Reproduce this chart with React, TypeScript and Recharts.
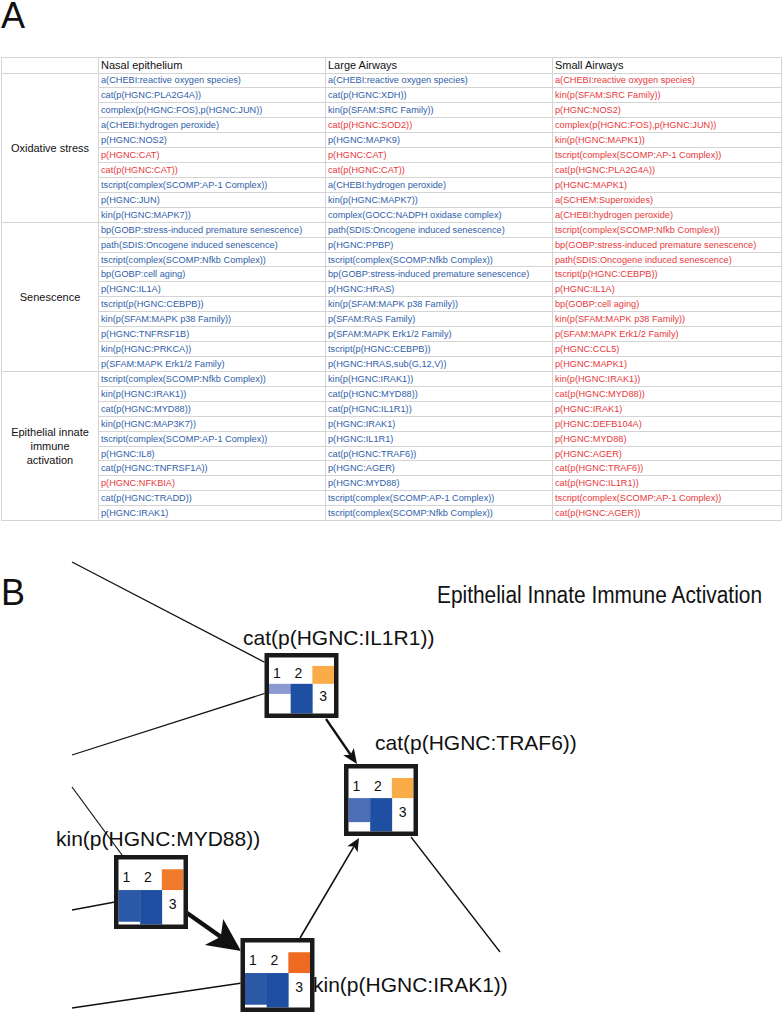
import React from "react";
import {
  ScatterChart,
  Scatter,
  XAxis,
  YAxis,
  ReferenceLine,
  Customized,
} from "recharts";

const FONT = "'Liberation Sans', Arial, Helvetica, sans-serif";

// ---------- panel A : table ----------
const regions = ["Nasal epithelium", "Large Airways", "Small Airways"];
const processes = ["Oxidative stress", "Senescence", "Epithelial innate\nimmune\nactivation"];

const nasalEpithelium = [
  "a(CHEBI:reactive oxygen species)",
  "cat(p(HGNC:PLA2G4A))",
  "complex(p(HGNC:FOS),p(HGNC:JUN))",
  "a(CHEBI:hydrogen peroxide)",
  "p(HGNC:NOS2)",
  "p(HGNC:CAT)",
  "cat(p(HGNC:CAT))",
  "tscript(complex(SCOMP:AP-1 Complex))",
  "p(HGNC:JUN)",
  "kin(p(HGNC:MAPK7))",
  "bp(GOBP:stress-induced premature senescence)",
  "path(SDIS:Oncogene induced senescence)",
  "tscript(complex(SCOMP:Nfkb Complex))",
  "bp(GOBP:cell aging)",
  "p(HGNC:IL1A)",
  "tscript(p(HGNC:CEBPB))",
  "kin(p(SFAM:MAPK p38 Family))",
  "p(HGNC:TNFRSF1B)",
  "kin(p(HGNC:PRKCA))",
  "p(SFAM:MAPK Erk1/2 Family)",
  "tscript(complex(SCOMP:Nfkb Complex))",
  "kin(p(HGNC:IRAK1))",
  "cat(p(HGNC:MYD88))",
  "kin(p(HGNC:MAP3K7))",
  "tscript(complex(SCOMP:AP-1 Complex))",
  "p(HGNC:IL8)",
  "cat(p(HGNC:TNFRSF1A))",
  "p(HGNC:NFKBIA)",
  "cat(p(HGNC:TRADD))",
  "p(HGNC:IRAK1)",
];

const largeAirways = [
  "a(CHEBI:reactive oxygen species)",
  "cat(p(HGNC:XDH))",
  "kin(p(SFAM:SRC Family))",
  "cat(p(HGNC:SOD2))",
  "p(HGNC:MAPK9)",
  "p(HGNC:CAT)",
  "cat(p(HGNC:CAT))",
  "a(CHEBI:hydrogen peroxide)",
  "kin(p(HGNC:MAPK7))",
  "complex(GOCC:NADPH oxidase complex)",
  "path(SDIS:Oncogene induced senescence)",
  "p(HGNC:PPBP)",
  "tscript(complex(SCOMP:Nfkb Complex))",
  "bp(GOBP:stress-induced premature senescence)",
  "p(HGNC:HRAS)",
  "kin(p(SFAM:MAPK p38 Family))",
  "p(SFAM:RAS Family)",
  "p(SFAM:MAPK Erk1/2 Family)",
  "tscript(p(HGNC:CEBPB))",
  "p(HGNC:HRAS,sub(G,12,V))",
  "kin(p(HGNC:IRAK1))",
  "cat(p(HGNC:MYD88))",
  "cat(p(HGNC:IL1R1))",
  "p(HGNC:IRAK1)",
  "p(HGNC:IL1R1)",
  "cat(p(HGNC:TRAF6))",
  "p(HGNC:AGER)",
  "p(HGNC:MYD88)",
  "tscript(complex(SCOMP:AP-1 Complex))",
  "tscript(complex(SCOMP:Nfkb Complex))",
];

const smallAirways = [
  "a(CHEBI:reactive oxygen species)",
  "kin(p(SFAM:SRC Family))",
  "p(HGNC:NOS2)",
  "complex(p(HGNC:FOS),p(HGNC:JUN))",
  "kin(p(HGNC:MAPK1))",
  "tscript(complex(SCOMP:AP-1 Complex))",
  "cat(p(HGNC:PLA2G4A))",
  "p(HGNC:MAPK1)",
  "a(SCHEM:Superoxides)",
  "a(CHEBI:hydrogen peroxide)",
  "tscript(complex(SCOMP:Nfkb Complex))",
  "bp(GOBP:stress-induced premature senescence)",
  "path(SDIS:Oncogene induced senescence)",
  "tscript(p(HGNC:CEBPB))",
  "p(HGNC:IL1A)",
  "bp(GOBP:cell aging)",
  "kin(p(SFAM:MAPK p38 Family))",
  "p(SFAM:MAPK Erk1/2 Family)",
  "p(HGNC:CCL5)",
  "p(HGNC:MAPK1)",
  "kin(p(HGNC:IRAK1))",
  "cat(p(HGNC:MYD88))",
  "p(HGNC:IRAK1)",
  "p(HGNC:DEFB104A)",
  "p(HGNC:MYD88)",
  "p(HGNC:AGER)",
  "cat(p(HGNC:TRAF6))",
  "cat(p(HGNC:IL1R1))",
  "tscript(complex(SCOMP:AP-1 Complex))",
  "cat(p(HGNC:AGER))",
];

// entries printed in red; everything else in the first two columns is blue
const nasalRed = ["p(HGNC:CAT)", "cat(p(HGNC:CAT))", "p(HGNC:NFKBIA)"];
const largeRed = ["cat(p(HGNC:SOD2))", "p(HGNC:CAT)", "cat(p(HGNC:CAT))"];
const smallRed = smallAirways;

const BLUE_TEXT = "#2f5ea9";
const RED_TEXT = "#e8383b";
const GRID = "#d4d4d4";
const ROW_H = 14.93;

const columnsData = [nasalEpithelium, largeAirways, smallAirways];
const columnsRed = [nasalRed, largeRed, smallRed];

const cellBase: React.CSSProperties = {
  border: `1px solid ${GRID}`,
  padding: "0 0 0 2px",
  whiteSpace: "nowrap",
  overflow: "hidden",
  verticalAlign: "middle",
  lineHeight: "12px",
};

function TableA() {
  const rowsPerGroup = nasalEpithelium.length / processes.length;
  return (
    <table
      style={{
        position: "absolute",
        left: 1,
        top: 57,
        width: 780,
        borderCollapse: "collapse",
        tableLayout: "fixed",
        fontFamily: FONT,
      }}
    >
      <colgroup>
        <col style={{ width: 97 }} />
        <col style={{ width: 227 }} />
        <col style={{ width: 227 }} />
        <col style={{ width: 229 }} />
      </colgroup>
      <tbody>
        <tr style={{ height: 15.5 }}>
          <td style={cellBase} />
          {regions.map((r) => (
            <td key={r} style={{ ...cellBase, fontSize: 11, color: "#111" }}>
              {r}
            </td>
          ))}
        </tr>
        {nasalEpithelium.map((_, i) => {
          const g = Math.floor(i / rowsPerGroup);
          const first = i % rowsPerGroup === 0;
          return (
            <tr key={i} style={{ height: ROW_H }}>
              {first && (
                <td
                  rowSpan={rowsPerGroup}
                  style={{
                    ...cellBase,
                    padding: 0,
                    textAlign: "center",
                    fontSize: 11,
                    lineHeight: "14px",
                    color: "#111",
                    whiteSpace: "normal",
                  }}
                >
                  {processes[g].split("\n").map((line, k) => (
                    <div key={k}>{line}</div>
                  ))}
                </td>
              )}
              {columnsData.map((col, c) => (
                <td
                  key={c}
                  style={{
                    ...cellBase,
                    fontSize: 9.2,
                    color: columnsRed[c].includes(col[i]) ? RED_TEXT : BLUE_TEXT,
                  }}
                >
                  {col[i]}
                </td>
              ))}
            </tr>
          );
        })}
      </tbody>
    </table>
  );
}

// ---------- panel B : network ----------
const nodeLabels = [
  "cat(p(HGNC:IL1R1))",
  "cat(p(HGNC:TRAF6))",
  "kin(p(HGNC:MYD88))",
  "kin(p(HGNC:IRAK1))",
];
const nodeX = [301.5, 381, 151, 277.5];
const nodeY = [685.5, 800, 892, 975];
// perturbation per region: negative = decreased (blue), positive = increased (orange)
const nasalScore = [-0.34, -0.72, -0.92, -0.92];
const largeScore = [-1, -1, -1, -1];
const smallScore = [0.3, 0.3, 0.75, 0.9];

// network edges (dangling ones come from neighbours outside the crop)
const edgeFrom = [
  [72, 562],
  [72, 755],
  [72, 787],
  [72, 910],
  [72, 1008],
  [326, 719],
  [187, 913],
  [300, 938],
  [411, 837],
];
const edgeTo = [
  [266, 663],
  [266, 693],
  [122, 855],
  [115, 902],
  [242, 983],
  [357, 764],
  [241, 951],
  [359, 838],
  [500, 952],
];

// drawing layout
const CHART_TOP = 540;
const edgeWidth = [1.3, 1.3, 1.2, 1.3, 1.3, 2.3, 4.5, 1.6, 1.3];
const edgeHead: (number[] | null)[] = [null, null, null, null, null, [15, 6.5], [33, 16], [13, 6], null];
const tileH = [65, 72, 74, 74];
const TILE_W = 74;
const labelDx = [-58.5, -6, -95, 35.5];
const labelDy = [-40.5, -50, -46, 17];

const mix = (a: number[], b: number[], t: number) =>
  `rgb(${a.map((v, k) => Math.round(v + (b[k] - v) * t)).join(",")})`;
const blueColor = (t: number) => mix([196, 190, 232], [31, 79, 162], t);
const orangeColor = (t: number) => mix([254, 205, 90], [236, 95, 28], t);

const nodes = nodeLabels.map((label, i) => ({
  i,
  label,
  x: nodeX[i],
  y: nodeY[i],
  scores: [nasalScore[i], largeScore[i], smallScore[i]],
}));

function NodeTile(props: any) {
  const { cx, cy, payload } = props;
  const i = payload.i;
  const w = TILE_W;
  const h = tileH[i];
  const bw = 4.5;
  const left = cx - w / 2;
  const top = cy - h / 2;
  const il = left + bw;
  const it = top + bw;
  const iw = w - 2 * bw;
  const ih = h - 2 * bw;
  const colW = iw / 3;
  const mid = it + ih * 0.47;
  const low = it + ih - mid;
  return (
    <g>
      <rect x={left} y={top} width={w} height={h} fill="#fff" />
      {payload.scores.map((s: number, k: number) => {
        const x = il + k * colW;
        const cxCol = x + colW / 2;
        if (s < 0) {
          return (
            <g key={k}>
              <rect x={x} y={mid} width={colW + 0.3} height={low * Math.abs(s)} fill={blueColor(Math.abs(s))} />
              <text
                x={cxCol - 3}
                y={it + ih * 0.27 + 5}
                textAnchor="middle"
                fontSize={14}
                fontFamily={FONT}
                fill="#111"
              >
                {k + 1}
              </text>
            </g>
          );
        }
        return (
          <g key={k}>
            <rect x={x} y={it + ih * 0.15} width={colW} height={ih * 0.32} fill={orangeColor(s)} />
            <text
              x={cxCol}
              y={it + ih * 0.69 + 5}
              textAnchor="middle"
              fontSize={14}
              fontFamily={FONT}
              fill="#111"
            >
              {k + 1}
            </text>
          </g>
        );
      })}
      <rect
        x={left + bw / 2}
        y={top + bw / 2}
        width={w - bw}
        height={h - bw}
        fill="none"
        stroke="#1a1a1a"
        strokeWidth={bw}
      />
      <text
        x={cx + labelDx[i]}
        y={cy + labelDy[i]}
        fontSize={21}
        fontFamily={FONT}
        fill="#111"
      >
        {payload.label}
      </text>
    </g>
  );
}

function Edge(props: any) {
  const { x1, y1, x2, y2, width, head } = props;
  const dx = x2 - x1;
  const dy = y2 - y1;
  const len = Math.hypot(dx, dy);
  const ux = dx / len;
  const uy = dy / len;
  if (!head) {
    return <line x1={x1} y1={y1} x2={x2} y2={y2} stroke="#111" strokeWidth={width} />;
  }
  const [hl, hw] = head;
  const bx = x2 - ux * hl;
  const by = y2 - uy * hl;
  const nx = -uy;
  const ny = ux;
  const notchX = x2 - ux * hl * 0.75;
  const notchY = y2 - uy * hl * 0.75;
  const pts = [
    [x2, y2],
    [bx + nx * hw, by + ny * hw],
    [notchX, notchY],
    [bx - nx * hw, by - ny * hw],
  ]
    .map((p) => p.join(","))
    .join(" ");
  return (
    <g>
      <line x1={x1} y1={y1} x2={notchX} y2={notchY} stroke="#111" strokeWidth={width} />
      <polygon points={pts} fill="#111" />
    </g>
  );
}

// svg coordinates here are relative to the chart's own top edge
function PanelBTitles() {
  return (
    <g>
      <text x={1} y={605 - CHART_TOP} fontSize={36} fontFamily={FONT} fill="#111">
        B
      </text>
      <text
        x={437}
        y={603 - CHART_TOP}
        fontSize={23}
        fontFamily={"'Liberation Sans Narrow', " + FONT}
        fill="#111"
        textLength={325}
        lengthAdjust="spacingAndGlyphs"
      >
        Epithelial Innate Immune Activation
      </text>
    </g>
  );
}

function NetworkB() {
  return (
    <div style={{ position: "absolute", left: 0, top: CHART_TOP }}>
      <ScatterChart width={783} height={474} margin={{ top: 0, right: 0, bottom: 0, left: 0 }}>
        <XAxis type="number" dataKey="x" domain={[0, 783]} hide />
        <YAxis type="number" dataKey="y" domain={[CHART_TOP, 1014]} reversed hide />
        <Customized component={PanelBTitles} />
        {edgeFrom.map((f, k) => (
          <ReferenceLine
            key={k}
            segment={[
              { x: f[0], y: f[1] },
              { x: edgeTo[k][0], y: edgeTo[k][1] },
            ]}
            ifOverflow="visible"
            shape={(p: any) => <Edge {...p} width={edgeWidth[k]} head={edgeHead[k]} />}
          />
        ))}
        <Scatter data={nodes} shape={(p: any) => <NodeTile {...p} />} isAnimationActive={false} />
      </ScatterChart>
    </div>
  );
}

export default function App() {
  return (
    <div
      style={{
        position: "absolute",
        left: 0,
        top: 0,
        width: 783,
        height: 1014,
        background: "#fff",
        fontFamily: FONT,
        overflow: "hidden",
      }}
    >
      <div
        style={{
          position: "absolute",
          left: 1,
          top: 0,
          fontSize: 36,
          lineHeight: "31px",
          color: "#111",
        }}
      >
        A
      </div>
      <TableA />
      <NetworkB />
    </div>
  );
}
